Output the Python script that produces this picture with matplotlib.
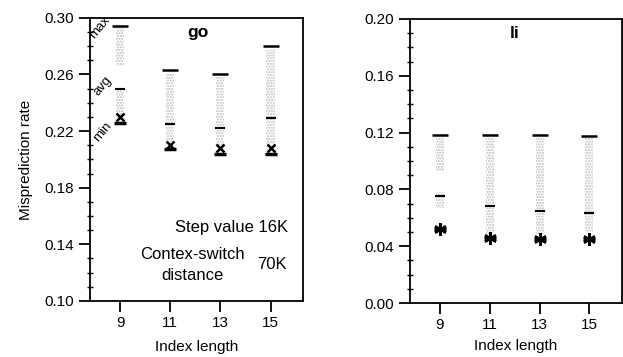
import numpy as np
import matplotlib.pyplot as plt

plt.rcParams['font.family'] = ['Liberation Sans', 'DejaVu Sans']

# data
index_len = [9, 11, 13, 15]

go_max = [0.294, 0.263, 0.260, 0.280]
go_avg = [0.250, 0.225, 0.222, 0.229]
go_min = [0.226, 0.207, 0.204, 0.204]
go_mark = [0.230, 0.210, 0.208, 0.208]
# stippled ranges (lo, hi) of the sample points
go_spread = [[(0.266, 0.293), (0.231, 0.251)],
             [(0.212, 0.260)],
             [(0.210, 0.258)],
             [(0.211, 0.277)]]
go_yticks = [0.10, 0.14, 0.18, 0.22, 0.26, 0.30]

li_max = [0.1185, 0.1183, 0.1180, 0.1178]
li_avg = [0.0754, 0.0685, 0.0646, 0.0632]
li_min = [0.0521, 0.0458, 0.0449, 0.0449]
li_spread = [[(0.093, 0.117), (0.067, 0.078)],
             [(0.048, 0.117)],
             [(0.048, 0.117)],
             [(0.050, 0.117)]]
li_yticks = [0.00, 0.04, 0.08, 0.12, 0.16, 0.20]

fig = plt.figure(figsize=(6.23, 3.57), dpi=100)
ax1 = fig.add_axes([0.1445, 0.157, 0.342, 0.793])
ax2 = fig.add_axes([0.658, 0.151, 0.340, 0.796])


def draw(ax, mx, av, mn, mark, spread, mk, msize, yticks, lpad):
    for x, segs in zip(index_len, spread):
        for lo, hi in segs:
            ax.bar(x, hi - lo, bottom=lo, width=0.32, facecolor='none',
                   edgecolor='#bcbcbc', hatch='......', linewidth=0)
    ax.plot(index_len, mx, linestyle='none', marker='_', markersize=11,
            markeredgewidth=1.8, color='black')
    ax.plot(index_len, av, linestyle='none', marker='_', markersize=7,
            markeredgewidth=1.5, color='black')
    ax.plot(index_len, mn, linestyle='none', marker='_', markersize=9,
            markeredgewidth=2.5, color='black')
    ax.plot(index_len, mark, linestyle='none', marker=mk, markersize=msize,
            markeredgewidth=1.8, color='black')
    ax.set_xlim(7.8, 16.3)
    ax.set_ylim(yticks[0], yticks[-1])
    ax.set_xticks(index_len)
    ax.set_yticks(yticks)
    ax.set_yticks(np.linspace(yticks[0], yticks[-1], 21), minor=True)
    ax.set_yticklabels(['%.2f' % t for t in yticks])
    ax.tick_params(axis='both', which='major', direction='out', length=8,
                   width=1.3, labelsize=11)
    ax.tick_params(axis='y', which='minor', direction='inout', length=5,
                   width=1)
    ax.tick_params(axis='x', which='major', pad=3)
    for s in ax.spines.values():
        s.set_linewidth(1.3)
    ax.set_xlabel('Index length', fontsize=11, labelpad=lpad)


draw(ax1, go_max, go_avg, go_min, go_mark, go_spread, 'x', 6, go_yticks, 7)
draw(ax2, li_max, li_avg, li_min, li_min, li_spread, (6, 2, 0), 9,
     li_yticks, 5)

ax1.set_ylabel('Misprediction rate', fontsize=11, labelpad=8)
ax1.text(12.1, 0.290, 'go', fontsize=12.5, fontweight='bold', ha='center',
         va='center')
ax2.text(12.0, 0.190, 'li', fontsize=12.5, fontweight='bold', ha='center',
         va='center')

ax1.text(8.2, 0.2935, 'max', fontsize=9.5, rotation=50, ha='center',
         va='center')
ax1.text(8.3, 0.2515, 'avg', fontsize=9.5, rotation=50, ha='center',
         va='center')
ax1.text(8.3, 0.2195, 'min', fontsize=9.5, rotation=50, ha='center',
         va='center')

ax1.text(15.7, 0.152, 'Step value 16K', fontsize=12, ha='right',
         va='center')
ax1.text(11.9, 0.1325, 'Contex-switch', fontsize=12, ha='center',
         va='center')
ax1.text(11.9, 0.1177, 'distance', fontsize=12, ha='center', va='center')
ax1.text(14.45, 0.126, '70K', fontsize=12, ha='left', va='center')

fig.savefig('out.png', dpi=100)
